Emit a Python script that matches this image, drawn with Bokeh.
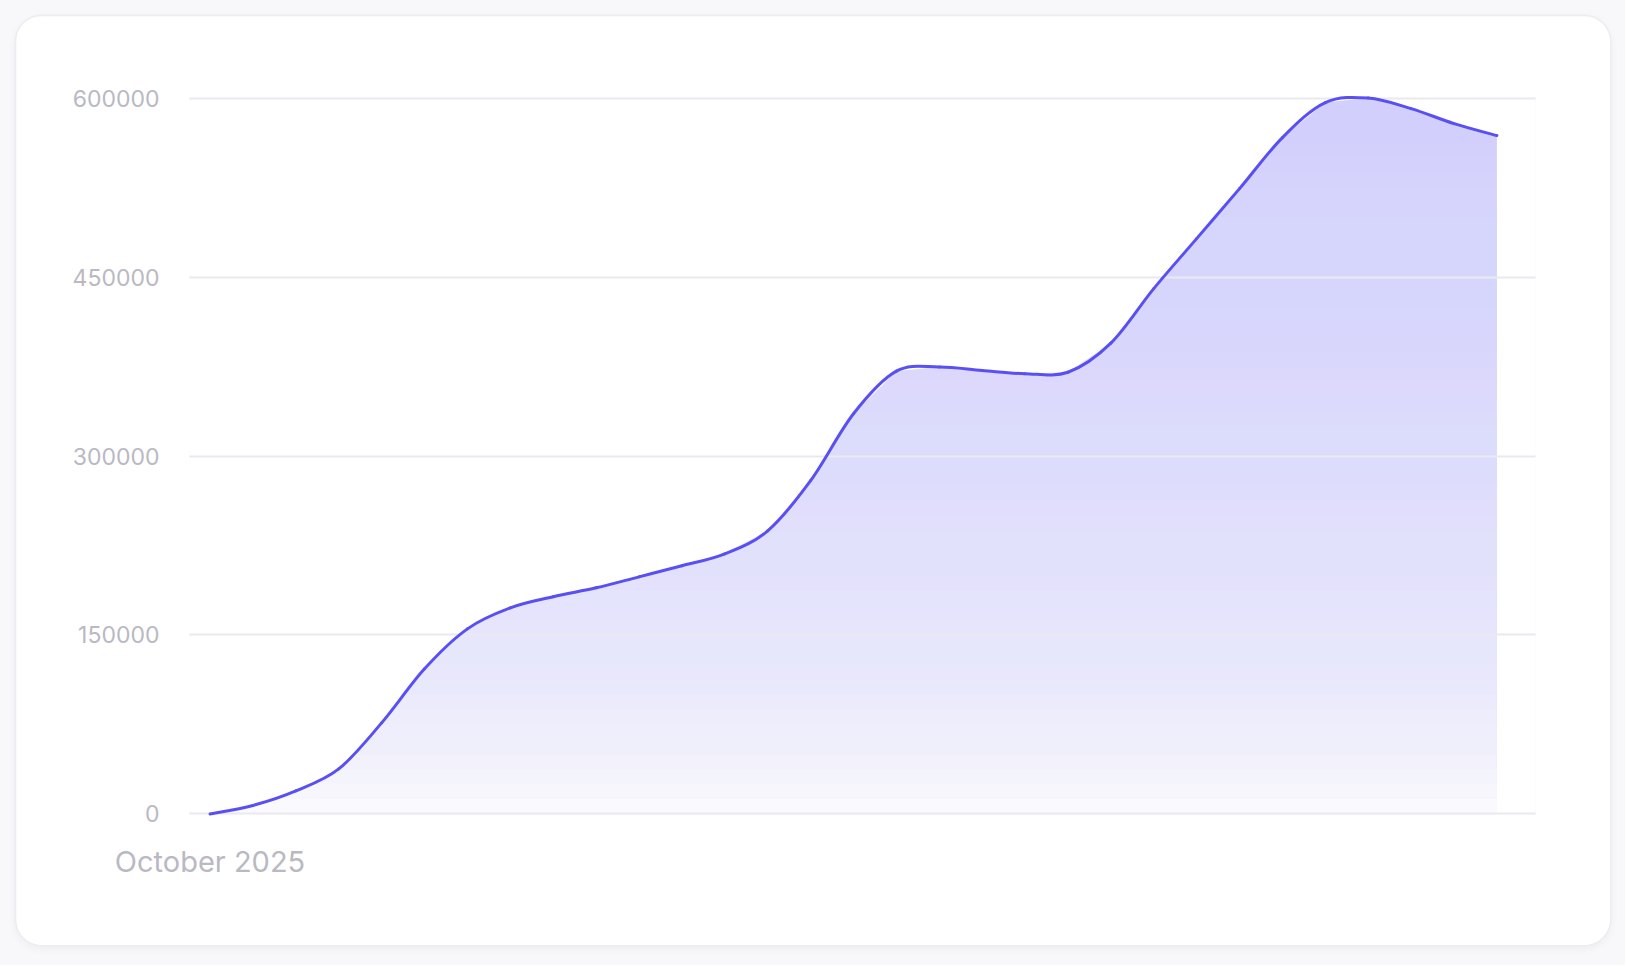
import numpy as np
import pandas as pd
from bokeh.plotting import figure
from bokeh.layouts import column, row
from bokeh.models import (Range1d, FixedTicker, MonthsTicker, DatetimeTickFormatter,
                          BasicTickFormatter, Spacer)
from bokeh.embed import file_html
from bokeh.resources import INLINE

# ---- data ----
start_date = "2025-10-01"
values = [0, 7100, 19300, 37700, 76300, 121600, 155100, 172700, 182000, 189500,
          198700, 208000, 218000, 237300, 279300, 335400, 371100, 374600, 371700,
          369000, 370200, 394600, 440300, 482200, 524100, 566900, 596200, 600000,
          591200, 578600, 568600]
dates = pd.date_range(start_date, periods=len(values), freq="D")
y_ticks = [0, 150000, 300000, 450000, 600000]

LINE = "#5a4ff3"
LABEL = "#b9b9c3"
GRID = "#e9e9ef"

x0 = dates[0].to_pydatetime()
x1 = dates[-1].to_pydatetime()
pad = 3000

p = figure(width=1594, height=929, x_axis_type="datetime",
           output_backend="svg", toolbar_location=None,
           min_border_left=173, min_border_right=75,
           min_border_top=78, min_border_bottom=128,
           x_range=Range1d(x0 - pd.Timedelta(hours=11.5), x1 + pd.Timedelta(hours=21.6)),
           y_range=Range1d(-pad, 600000 + pad))
p.background_fill_color = "white"
p.border_fill_color = "white"
p.outline_line_color = None
p.styles = {"border-radius": "26px", "overflow": "hidden",
            "box-shadow": "0 0 0 1.5px #ececf2, 0 3px 10px rgba(30,30,60,0.06)"}

# gradient area: uniform tint then cumulative white veils toward the bottom
p.varea(x=dates, y1=0, y2=values, fill_color=LINE, fill_alpha=0.27)
ymax = max(values)
N = 48
tops = [ymax * k / N for k in range(1, N + 1)]
alphas = [1 - (k - 0.5) / (k + 0.5) for k in range(1, N + 1)]
p.quad(left=x0, right=x1, bottom=0, top=tops, fill_color="white",
       fill_alpha=alphas, line_color=None)

# smooth line: Catmull-Rom segments drawn as cubic Bezier glyphs through the data points
xs = dates.values.astype("datetime64[ms]").astype("int64").astype(float)
ys = np.asarray(values, dtype=float)
xp = np.concatenate([[xs[0]], xs, [xs[-1]]])
yp = np.concatenate([[ys[0]], ys, [ys[-1]]])
n = len(xs)
i = np.arange(n - 1)
cx0 = xs[i] + (xp[i + 2] - xp[i]) / 6
cy0 = ys[i] + (yp[i + 2] - yp[i]) / 6
cx1 = xs[i + 1] - (xp[i + 3] - xp[i + 1]) / 6
cy1 = ys[i + 1] - (yp[i + 3] - yp[i + 1]) / 6
p.bezier(x0=xs[:-1], y0=ys[:-1], x1=xs[1:], y1=ys[1:],
         cx0=cx0, cy0=cy0, cx1=cx1, cy1=cy1,
         line_color=LINE, line_width=3, line_cap="round", level="overlay")

# axes
p.yaxis.ticker = FixedTicker(ticks=y_ticks)
p.yaxis.formatter = BasicTickFormatter(use_scientific=False)
p.yaxis.axis_line_color = None
p.yaxis.major_tick_line_color = None
p.yaxis.minor_tick_line_color = None
p.yaxis.major_label_standoff = 24
p.yaxis.major_label_text_font = "Inter"
p.yaxis.major_label_text_font_size = "23px"
p.yaxis.major_label_text_color = LABEL

p.xaxis.ticker = MonthsTicker(months=list(range(12)))
fmt = "%B %Y"
p.xaxis.formatter = DatetimeTickFormatter(
    microseconds=fmt, milliseconds=fmt, seconds=fmt, minsec=fmt, minutes=fmt,
    hourmin=fmt, hours=fmt, days=fmt, months=fmt, years=fmt)
p.xaxis.axis_line_color = None
p.xaxis.major_tick_line_color = None
p.xaxis.minor_tick_line_color = None
p.xaxis.major_label_standoff = 20
p.xaxis.major_label_text_font = "Inter"
p.xaxis.major_label_text_font_size = "29px"
p.xaxis.major_label_text_color = LABEL

p.xgrid.grid_line_color = None
p.ygrid.grid_line_color = GRID
p.ygrid.grid_line_width = 2
p.ygrid.level = "annotation"

root = column(Spacer(width=1625, height=16),
              row(Spacer(width=16, height=929), p),
              width=1625, height=965,
              styles={"background-color": "#f8f8fa"})

open("out.html", "w").write(file_html(root, INLINE))
